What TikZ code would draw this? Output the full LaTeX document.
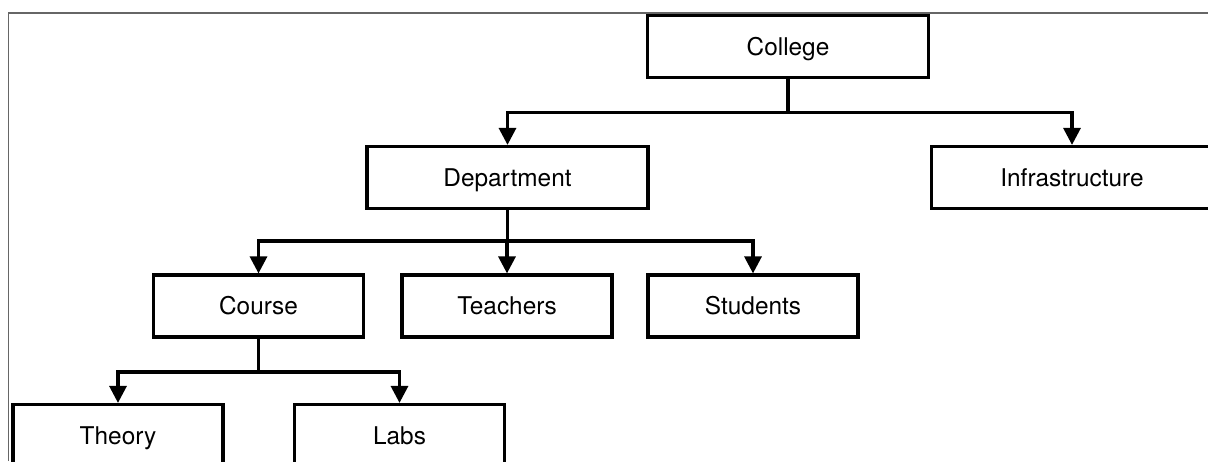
\documentclass[tikz,border=0pt]{standalone}
\usepackage{fontspec}
\setmainfont{TeX Gyre Heros}
\usetikzlibrary{arrows.meta}

\begin{document}
\begin{tikzpicture}[x=0.5pt,y=-0.5pt,
        box/.style={draw,line width=1.6pt,minimum width=140.5pt,minimum height=31pt,inner sep=0pt,text height=8.8pt,text depth=0pt,font=\fontsize{12.2}{14}\selectfont},
        smallbox/.style={box,minimum width=105pt},
        link/.style={line width=1.6pt},
        arrow/.style={link,-{Triangle[length=8.5pt,width=8.5pt]}}]
        \clip(0,0)rectangle(1208,461);
        \draw[black!60,line width=0.8pt](8.5,461)--(8.5,13)--(1208,13);

        \node[box](college)at(788,46.5){College};
        \node[box](dept)at(507.5,177.5){Department};
        \node[box](infra)at(1072,177.5){Infrastructure};
        \node[smallbox](course)at(258.5,306){Course};
        \node[smallbox](teach)at(507,306){Teachers};
        \node[smallbox](stud)at(753,306){Students};
        \node[smallbox](theory)at(118,435.5){Theory};
        \node[smallbox](labs)at(399.5,435.5){Labs};

        \coordinate(j1)at(788,112.5);
        \coordinate(j2)at(507.5,241);
        \coordinate(j3)at(258.5,372);

        \draw[link](college)--(j1);
        \draw[arrow](j1)-|(dept);
        \draw[arrow](j1)-|(infra);

        \draw[link](dept)--(j2);
        \draw[arrow](j2)-|(course);
        \draw[arrow](j2)-|(teach);
        \draw[arrow](j2)-|(stud);

        \draw[link](course)--(j3);
        \draw[arrow](j3)-|(theory);
        \draw[arrow](j3)-|(labs);
    \end{tikzpicture}
\end{document}
